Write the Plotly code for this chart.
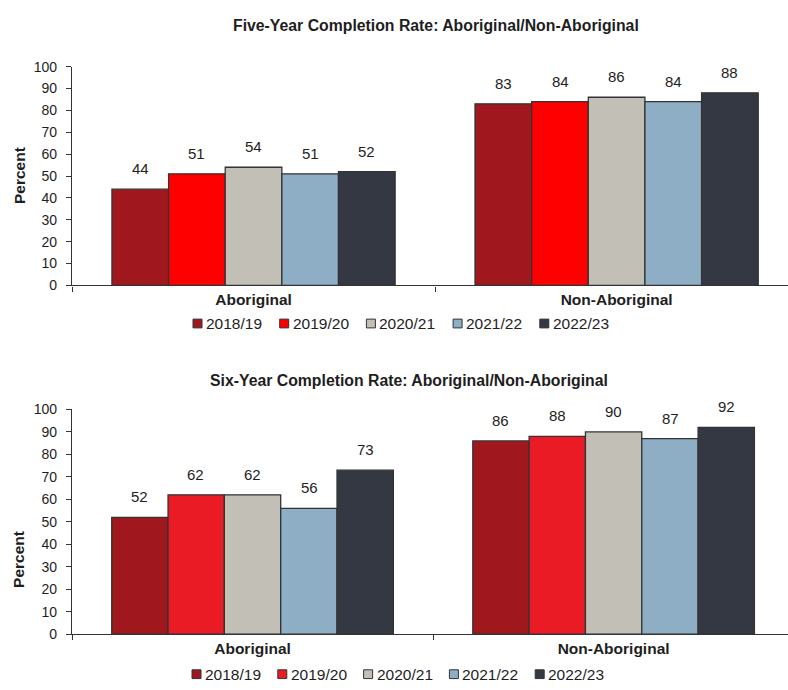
import plotly.graph_objects as go
from plotly.subplots import make_subplots

# Data
categories = ["Aboriginal", "Non-Aboriginal"]
years = ["2018/19", "2019/20", "2020/21", "2021/22", "2022/23"]
five_year = {
    "2018/19": [44, 83],
    "2019/20": [51, 84],
    "2020/21": [54, 86],
    "2021/22": [51, 84],
    "2022/23": [52, 88],
}
six_year = {
    "2018/19": [52, 86],
    "2019/20": [62, 88],
    "2020/21": [62, 90],
    "2021/22": [56, 87],
    "2022/23": [73, 92],
}
titles = [
    "Five-Year Completion Rate: Aboriginal/Non-Aboriginal",
    "Six-Year Completion Rate: Aboriginal/Non-Aboriginal",
]
y_ticks = list(range(0, 101, 10))

colors_top = ["#A0181E", "#FF0000", "#C2BFB7", "#8EAEC5", "#343843"]
colors_bot = ["#A0181E", "#EA1B25", "#C2BFB7", "#8EAEC5", "#343843"]

W, H = 788, 690
FONT = "Liberation Sans, Arial, sans-serif"
TXT = "#1e1e1e"
EDGE = "#333333"

fig = make_subplots(rows=2, cols=1)

xlabels = [f"<b>{c}</b>" for c in categories]


def py(px):
    return 1 - px / H


panels = [
    # data, colours, legend row (px), legend start (px), legend step (px)
    (five_year, colors_top, 323, 193, 86.7),
    (six_year, colors_bot, 682, 192, 85.8),
]

for row, (data, cols, leg_y, leg_x, leg_step) in enumerate(panels, start=1):
    suffix = "" if row == 1 else str(row)
    for i, yr in enumerate(years):
        fig.add_trace(
            go.Bar(
                x=xlabels,
                y=data[yr],
                name=yr,
                marker=dict(color=cols[i], line=dict(color=EDGE, width=1.3)),
                showlegend=False,
            ),
            row=row, col=1,
        )
        # value labels above each bar
        for j, v in enumerate(data[yr]):
            fig.add_annotation(
                x=xlabels[j], y=v, xref=f"x{suffix}", yref=f"y{suffix}",
                text=str(v), showarrow=False, yanchor="bottom", yshift=10,
                xshift=(i - 2) * 56.6,
                font=dict(family=FONT, size=15, color=TXT),
            )
        # legend key: small square swatch followed by the year label
        kx = leg_x + i * leg_step
        fig.add_shape(
            type="rect", xref="paper", yref="paper",
            x0=kx / W, x1=(kx + 9) / W,
            y0=py(leg_y + 4.5), y1=py(leg_y - 4.5),
            fillcolor=cols[i], line=dict(color=EDGE, width=1),
        )
        fig.add_annotation(
            x=(kx + 11) / W, y=py(leg_y), xref="paper", yref="paper",
            text=yr, showarrow=False, xanchor="left", yanchor="middle",
            font=dict(family=FONT, size=15.5, color=TXT),
        )

x0 = 72 / W
fig.update_layout(
    width=W, height=H,
    margin=dict(l=0, r=0, t=0, b=0),
    paper_bgcolor="white", plot_bgcolor="white",
    barmode="group", bargap=0.22, bargroupgap=0,
    font=dict(family=FONT, size=14, color=TXT),
    xaxis=dict(domain=[x0, 1], anchor="y"),
    xaxis2=dict(domain=[x0, 1], anchor="y2"),
    yaxis=dict(domain=[py(284), py(60)], anchor="x"),
    yaxis2=dict(domain=[py(641), py(411)], anchor="x2"),
    showlegend=False,
)

for r, right in [(1, 1.472), (2, 1.483)]:
    fig.update_xaxes(
        row=r, col=1, type="category", range=[-0.5, right],
        showline=True, linecolor="#333", linewidth=1.2,
        ticks="outside", tickson="boundaries", ticklen=5, tickcolor="#333",
        tickfont=dict(family=FONT, size=15.5, color=TXT),
        showgrid=False, zeroline=False, fixedrange=True,
    )
    fig.update_yaxes(
        row=r, col=1, range=[0, 100], tickvals=y_ticks,
        showline=True, linecolor="#333", linewidth=1.2,
        ticks="outside", ticklen=5, tickcolor="#333",
        ticklabelstandoff=6,
        tickfont=dict(family=FONT, size=14, color=TXT),
        showgrid=False, zeroline=False,
    )

# chart titles
for t, xc, yc in [(titles[0], 436, 18), (titles[1], 409, 381)]:
    fig.add_annotation(
        x=xc / W, y=py(yc), xref="paper", yref="paper", text=f"<b>{t}</b>",
        showarrow=False, xanchor="center", yanchor="middle",
        font=dict(family=FONT, size=15.8, color=TXT),
    )

# y-axis titles
for yc in [172, 565]:
    fig.add_annotation(
        x=19 / W, y=py(yc), xref="paper", yref="paper", text="<b>Percent</b>",
        showarrow=False, textangle=-90, xanchor="center", yanchor="middle",
        font=dict(family=FONT, size=15.5, color=TXT),
    )

fig.write_html("out.html")
